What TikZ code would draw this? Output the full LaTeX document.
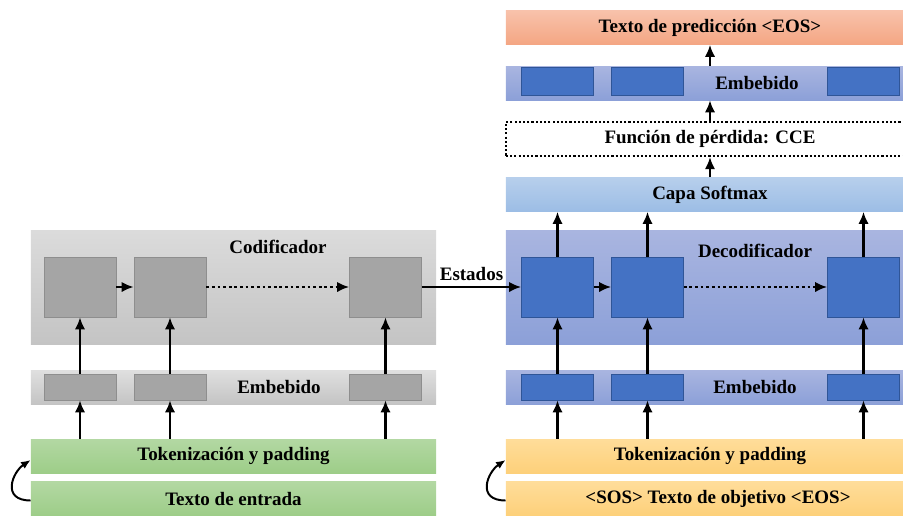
\documentclass[tikz,border=0pt]{standalone}
\usepackage{fontspec}
\setmainfont{Liberation Serif}
\usetikzlibrary{arrows.meta}

\definecolor{grisfondo}{HTML}{D2D2D2}
\definecolor{grisbajo}{HTML}{C4C4C4}
\definecolor{griscelda}{HTML}{A5A5A5}
\definecolor{grisborde}{HTML}{8E8E8E}
\definecolor{azulfondo}{HTML}{A9B5E0}
\definecolor{azulbajo}{HTML}{8CA0D8}
\definecolor{azulcelda}{HTML}{4472C4}
\definecolor{azulborde}{HTML}{2F5597}
\definecolor{cielo}{HTML}{B7CFEC}
\definecolor{cielobajo}{HTML}{9CBDE5}
\definecolor{salmon}{HTML}{F8C2AB}
\definecolor{salmonbajo}{HTML}{F4A683}
\definecolor{verde}{HTML}{B3D8A3}
\definecolor{verdebajo}{HTML}{9DCD88}
\definecolor{amarillo}{HTML}{FFDD9A}
\definecolor{amarillobajo}{HTML}{FDD07A}

\tikzset{
  rotulo/.style={font=\fontsize{13.5}{16}\selectfont\bfseries},
  capa/.style={inner sep=0, minimum height=0.85cm, rotulo},
  leftcapa/.style={capa, minimum width=10.125cm},
  rightcapa/.style={capa, minimum width=10.2cm},
  celda/.style={draw=grisborde, fill=griscelda, minimum width=1.8cm, minimum height=1.5cm, inner sep=0},
  celdaazul/.style={celda, draw=azulborde, fill=azulcelda},
  emb/.style={draw=grisborde, fill=griscelda, minimum width=1.8cm, minimum height=0.65cm, inner sep=0},
  embazul/.style={emb, draw=azulborde, fill=azulcelda},
  flecha/.style={line width=2pt, -{Latex[length=3mm,width=2.6mm]}},
  puntos/.style={flecha, dash pattern=on 2pt off 2pt},
  bucle/.style={line width=1.4pt, -{Latex[length=2.4mm,width=2mm]}}
}

\begin{document}
\begin{tikzpicture}[x=0.025cm, y=-0.025cm]
    \useasboundingbox (0,0) rectangle (903,515);

    % encoder side
    \node[leftcapa, minimum height=2.825cm, top color=grisfondo!80!white, bottom color=grisbajo] (codif) at (233.5,287.5) {};
    \node[rotulo] (codiflbl) at (278,247) {Codificador};
    \node[leftcapa, top color=grisfondo!70!white, bottom color=grisbajo] (embL) at (233.5,387) {};
    \node[rotulo] at (279,387) {Embebido};
    \node[leftcapa, top color=verde, bottom color=verdebajo] (tokL) at (233.5,456) {Tokenización y padding};
    \node[leftcapa, top color=verde, bottom color=verdebajo] (txtL) at (233.5,498.5) {Texto de entrada};

    \node[celda] (cL1) at (80,287) {};
    \node[celda] (cL2) at (170,287) {};
    \node[celda] (cL3) at (385.5,287) {};
    \node[emb] (eL1) at (80,387) {};
    \node[emb] (eL2) at (170,387) {};
    \node[emb] (eL3) at (385.5,387) {};

    % decoder side
    \node[rightcapa, top color=salmon, bottom color=salmonbajo] (pred) at (710,27.5) {Texto de predicción <EOS>};
    \node[rightcapa, top color=azulfondo, bottom color=azulbajo] (embT) at (710,83) {};
    \node[rotulo] at (757,83) {Embebido};
    \node[rightcapa, draw, line width=1.5pt, dash pattern=on 1.5pt off 1.5pt] (cce) at (710,139) {Función de pérdida: CCE};
    \node[rightcapa, top color=cielo, bottom color=cielobajo] (soft) at (710,194.5) {Capa Softmax};
    \node[rightcapa, minimum height=2.825cm, top color=azulfondo, bottom color=azulbajo] (decod) at (710,287.5) {};
    \node[rotulo] at (755,251) {Decodificador};
    \node[rightcapa, top color=azulfondo, bottom color=azulbajo] (embR) at (710,387) {};
    \node[rotulo] at (755,387) {Embebido};
    \node[rightcapa, top color=amarillo, bottom color=amarillobajo] (tokR) at (710,456) {Tokenización y padding};
    \node[rightcapa, top color=amarillo, bottom color=amarillobajo] (txtR) at (710,498.5) {\hspace{0.4cm}<SOS> Texto de objetivo <EOS>};

    \node[embazul, minimum height=0.7cm] (eT1) at (557.5,81.5) {};
    \node[embazul, minimum height=0.7cm] (eT2) at (647.5,81.5) {};
    \node[embazul, minimum height=0.7cm] (eT3) at (863.5,81.5) {};
    \node[celdaazul] (cR1) at (557.5,287) {};
    \node[celdaazul] (cR2) at (647.5,287) {};
    \node[celdaazul] (cR3) at (863.5,287) {};
    \node[embazul] (eR1) at (557.5,387) {};
    \node[embazul] (eR2) at (647.5,387) {};
    \node[embazul] (eR3) at (863.5,387) {};

    % vertical arrows
    \foreach \i in {1,2,3} {
      \draw[flecha] (tokL.north -| eL\i) -- (eL\i.south);
      \draw[flecha] (eL\i.north) -- (cL\i.south);
      \draw[flecha] (tokR.north -| eR\i) -- (eR\i.south);
      \draw[flecha] (eR\i.north) -- (cR\i.south);
      \draw[flecha] (cR\i.north) -- (soft.south -| cR\i);
    }
    \draw[flecha] (soft.north) -- (cce.south);
    \draw[flecha] (cce.north) -- (embT.south);
    \draw[flecha] (embT.north) -- (pred.south);

    % recurrent arrows
    \draw[flecha] (cL1) -- (cL2);
    \draw[puntos] (cL2) -- (cL3);
    \draw[flecha] (cR1) -- (cR2);
    \draw[puntos] (cR2) -- (cR3);
    \draw[flecha] (cL3) -- node[above, rotulo] {Estados} (cR1);

    % loops
    \draw[bucle] ([yshift=-0.5mm]txtL.west) .. controls +(-30,0) and +(-18,12) .. ([yshift=-1mm]tokL.west);
    \draw[bucle] ([yshift=-0.5mm]txtR.west) .. controls +(-30,0) and +(-18,12) .. ([yshift=-1mm]tokR.west);
\end{tikzpicture}
\end{document}
